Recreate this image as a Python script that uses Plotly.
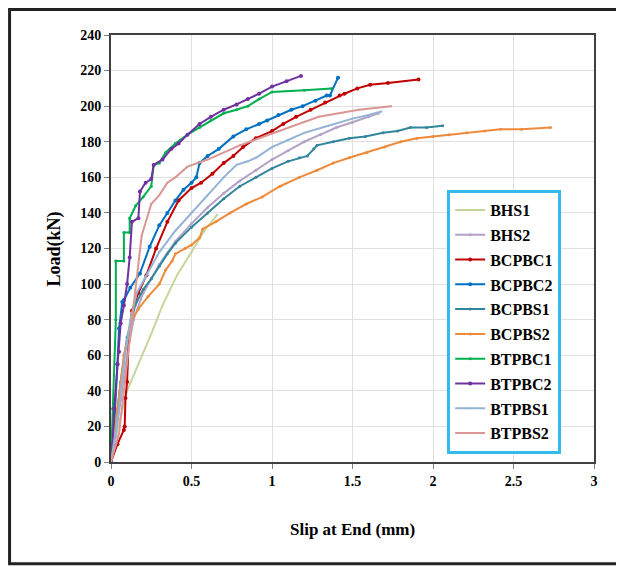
import plotly.graph_objects as go

# slip (mm) / load (kN)
names = ['BHS1', 'BHS2', 'BCPBC1', 'BCPBC2', 'BCPBS1', 'BCPBS2',
         'BTPBC1', 'BTPBC2', 'BTPBS1', 'BTPBS2']
colors = ['#c4d79b', '#b3a2c7', '#c00000', '#0070c0', '#31859c', '#ee8a3c',
          '#00b050', '#7030a0', '#95b3d7', '#d99694']
marker_sizes = [2, 3, 4, 4, 3, 3, 3, 4, 2, 2]

bhs1_x = [0, 0.02, 0.05, 0.1, 0.17, 0.25, 0.32, 0.41, 0.5, 0.58, 0.66]
bhs1_y = [0, 10, 22, 40, 55, 72, 88, 105, 118, 130, 139]

bhs2_x = [0, 0.03, 0.06, 0.1, 0.14, 0.2, 0.25, 0.3, 0.4, 0.5, 0.6, 0.7, 0.8,
          0.9, 1.0, 1.1, 1.2, 1.3, 1.4, 1.5, 1.6, 1.66]
bhs2_y = [0, 15, 35, 60, 80, 95, 103, 111, 124, 134, 143, 151, 158,
          164, 170, 175, 180, 184, 188, 191, 194, 196]

bcpbc1_x = [0, 0.04, 0.08, 0.085, 0.09, 0.1, 0.11, 0.13, 0.17, 0.22, 0.28, 0.35,
            0.42, 0.5, 0.56, 0.63, 0.7, 0.76, 0.82, 0.9, 1.0, 1.07, 1.15, 1.24,
            1.33, 1.42, 1.45, 1.53, 1.61, 1.72, 1.91]
bcpbc1_y = [0, 10, 18, 20, 36, 45, 70, 85, 95, 105, 120, 135,
            147, 154, 157, 162, 168, 172, 177, 182, 186, 190, 194, 198,
            202, 206, 207, 210, 212, 213, 215]

bcpbc2_x = [0, 0.02, 0.04, 0.05, 0.07, 0.08, 0.12, 0.18, 0.24, 0.3, 0.35, 0.4,
            0.45, 0.5, 0.53, 0.55, 0.6, 0.67, 0.76, 0.84, 0.92, 0.97, 1.04,
            1.12, 1.19, 1.27, 1.34, 1.36, 1.41]
bcpbc2_y = [0, 20, 55, 75, 90, 91, 98, 106, 121, 133, 140, 147,
            153, 157, 160, 168, 172, 176, 183, 187, 190, 192, 195,
            198, 200, 203, 206, 206, 216]

bcpbs1_x = [0, 0.03, 0.06, 0.1, 0.15, 0.2, 0.25, 0.3, 0.35, 0.4, 0.5, 0.6,
            0.7, 0.8, 0.9, 1.0, 1.1, 1.17, 1.22, 1.26, 1.28, 1.38, 1.48,
            1.58, 1.69, 1.78, 1.86, 1.96, 2.06]
bcpbs1_y = [0, 20, 45, 70, 88, 97, 103, 110, 117, 123, 132, 140,
            148, 155, 160, 165, 169, 171, 172, 176, 178, 180, 182,
            183, 185, 186, 188, 188, 189]

bcpbs2_x = [0, 0.04, 0.08, 0.13, 0.17, 0.23, 0.3, 0.34, 0.38, 0.4, 0.46, 0.5,
            0.55, 0.57, 0.65, 0.74, 0.84, 0.94, 1.05, 1.17, 1.28, 1.38, 1.48,
            1.59, 1.7, 1.8, 1.9, 2.0, 2.1, 2.21, 2.32, 2.42, 2.55, 2.73]
bcpbs2_y = [0, 30, 60, 80, 86, 93, 100, 108, 113, 117, 120, 122,
            126, 131, 135, 140, 145, 149, 155, 160, 164, 168, 171,
            174, 177, 180, 182, 183, 184, 185, 186, 187, 187, 188]

btpbc1_x = [0, 0.01, 0.03, 0.03, 0.08, 0.08, 0.116, 0.116, 0.153, 0.2, 0.25, 0.265,
            0.3, 0.34, 0.4, 0.475, 0.55, 0.62, 0.7, 0.78, 0.85, 0.92, 1.0,
            1.2, 1.37]
btpbc1_y = [0, 30, 80, 113, 113, 129, 129, 137, 144, 149, 155, 167,
            168, 174, 179, 184, 188, 192, 196, 198, 200, 204, 208,
            209, 210]

btpbc2_x = [0, 0.01, 0.02, 0.04, 0.05, 0.06, 0.08, 0.1, 0.116, 0.13, 0.17, 0.18,
            0.215, 0.25, 0.265, 0.32, 0.375, 0.42, 0.475, 0.55, 0.62, 0.7,
            0.78, 0.85, 0.92, 1.0, 1.09, 1.18]
btpbc2_y = [0, 10, 30, 55, 62, 78, 88, 100, 115, 135, 137, 152,
            157, 159, 167, 170, 176, 179, 184, 190, 194, 198,
            201, 204, 207, 211, 214, 217]

btpbs1_x = [0, 0.02, 0.05, 0.08, 0.12, 0.16, 0.22, 0.3, 0.4, 0.5, 0.6, 0.7,
            0.78, 0.85, 0.9, 1.0, 1.1, 1.2, 1.35, 1.5, 1.6, 1.68]
btpbs1_y = [0, 12, 30, 55, 80, 95, 105, 118, 130, 140, 150, 160,
            167, 169, 171, 177, 181, 185, 189, 193, 195, 197]

btpbs2_x = [0, 0.05, 0.1, 0.15, 0.19, 0.25, 0.3, 0.35, 0.4, 0.475, 0.6, 0.8,
            1.04, 1.29, 1.54, 1.74]
btpbs2_y = [0, 16, 56, 97, 127, 145, 150, 157, 160, 166, 170, 178,
            186, 194, 198, 200]

xs = [bhs1_x, bhs2_x, bcpbc1_x, bcpbc2_x, bcpbs1_x, bcpbs2_x,
      btpbc1_x, btpbc2_x, btpbs1_x, btpbs2_x]
ys = [bhs1_y, bhs2_y, bcpbc1_y, bcpbc2_y, bcpbs1_y, bcpbs2_y,
      btpbc1_y, btpbc2_y, btpbs1_y, btpbs2_y]

serif = 'Liberation Serif'

fig = go.Figure()
for i in range(len(names)):
    fig.add_trace(go.Scatter(
        x=xs[i], y=ys[i], name=names[i], legendgroup=names[i],
        mode='lines+markers',
        line=dict(color=colors[i], width=2),
        marker=dict(color=colors[i], size=marker_sizes[i])
    ))

# page body adds an 8px offset, so the figure is sized to fit inside the window
fig.update_layout(
    width=616, height=559,
    margin=dict(l=103, r=30, t=27, b=105),
    paper_bgcolor='white', plot_bgcolor='white',
    font=dict(family=serif, color='black', size=12),
    showlegend=True,
    legend=dict(
        x=0.696, y=0.637, xanchor='left', yanchor='top',
        bgcolor='white', bordercolor='#33bbee', borderwidth=3,
        font=dict(family=serif, size=16, color='black', weight='bold'),
        tracegroupgap=1, itemwidth=30
    ),
    xaxis=dict(
        range=[0, 3], dtick=0.5, showgrid=True, gridcolor='#e0e0e0', gridwidth=1,
        zeroline=False, showline=True, linecolor='#404040', linewidth=2, mirror=True,
        ticks='outside', ticklen=5, tickcolor='#808080',
        tickfont=dict(family=serif, size=14, weight='bold')
    ),
    yaxis=dict(
        range=[0, 240], dtick=20, showgrid=True, gridcolor='#e0e0e0', gridwidth=1,
        zeroline=False, showline=True, linecolor='#404040', linewidth=2, mirror=True,
        ticks='outside', ticklen=5, tickcolor='#808080',
        tickfont=dict(family=serif, size=14, weight='bold')
    ),
    annotations=[
        dict(text='Slip at End (mm)', xref='paper', yref='paper', x=0.5, y=-0.159,
             xanchor='center', yanchor='middle', showarrow=False,
             font=dict(family=serif, size=17, weight='bold')),
        dict(text='Load(kN)', xref='paper', yref='paper', x=-0.116, y=0.5,
             xanchor='center', yanchor='middle', showarrow=False, textangle=-90,
             font=dict(family=serif, size=18, weight='bold')),
    ],
    shapes=[
        dict(type='rect', xref='paper', yref='paper',
             x0=-0.210, x1=1.052, y0=-0.238, y1=1.060,
             line=dict(color='#222222', width=3))
    ]
)

fig.write_html('out.html')
